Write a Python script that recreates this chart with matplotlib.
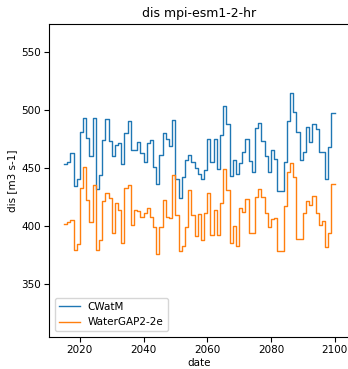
import matplotlib
matplotlib.use("Agg")
import matplotlib.pyplot as plt
import numpy as np

# annual values, 2015..2100 (step plot, first value is the start point)
years = np.arange(2015, 2101)

cwatm = [453, 453, 455, 463, 434, 440, 481, 493, 476, 460, 493,
         432, 444, 474, 492, 473, 460, 470, 471, 453, 480,
         490, 465, 465, 472, 463, 455, 471, 474, 451, 436,
         461, 480, 475, 469, 491, 440, 424, 442, 457, 461,
         455,
         450, 445, 440, 448, 475, 455, 475, 449, 478, 503,
         488, 443, 457, 445, 454, 464, 475, 456, 446, 484,
         489, 473, 460, 446, 465, 458, 430, 430, 455, 490,
         514, 498, 481, 457, 464, 485, 472, 488, 483, 464,
         464, 440, 468, 497]

watergap = [402, 402, 403, 405, 379, 384, 433, 451, 422, 403, 435,
            379, 388, 421, 428, 424, 394, 420, 414, 385, 433,
            435, 401, 414, 413, 408, 411, 415, 408, 399, 376,
            399, 422, 408, 407, 444, 409, 378, 383, 399, 431,
            409,
            391, 410, 388, 411, 428, 392, 414, 392, 420, 449,
            431, 385, 400, 383, 415, 412, 423, 394, 394, 425,
            432, 425, 411, 399, 406, 407, 378, 378, 417, 446,
            454, 442, 389, 389, 411, 421, 418, 426, 411, 401,
            404, 382, 394, 436]

labels = ['CWatM', 'WaterGAP2-2e']

plt.rcParams['font.size'] = 7.5

fig = plt.figure(figsize=(3.48, 3.69), dpi=100)
ax = fig.add_axes([49.3 / 348, 1 - 336.7 / 369, 300 / 348, (336.7 - 24) / 369])

ax.plot(years, cwatm, drawstyle='steps', color='#1f77b4', lw=1.0, label=labels[0])
ax.plot(years, watergap, drawstyle='steps', color='#ff7f0e', lw=1.0, label=labels[1])

ax.set_xlim(2010.4, 2104.6)
ax.set_ylim(304.6, 573.8)
ax.set_xticks([2020, 2040, 2060, 2080, 2100])
ax.set_yticks([350, 400, 450, 500, 550])
ax.tick_params(length=3.5, pad=2.5)
ax.set_title('dis mpi-esm1-2-hr', fontsize=9, pad=5)
ax.set_xlabel('date', labelpad=2)
ax.set_ylabel('dis [m3 s-1]', labelpad=3)
ax.legend(loc='lower left')

fig.savefig('out.png', dpi=100)
